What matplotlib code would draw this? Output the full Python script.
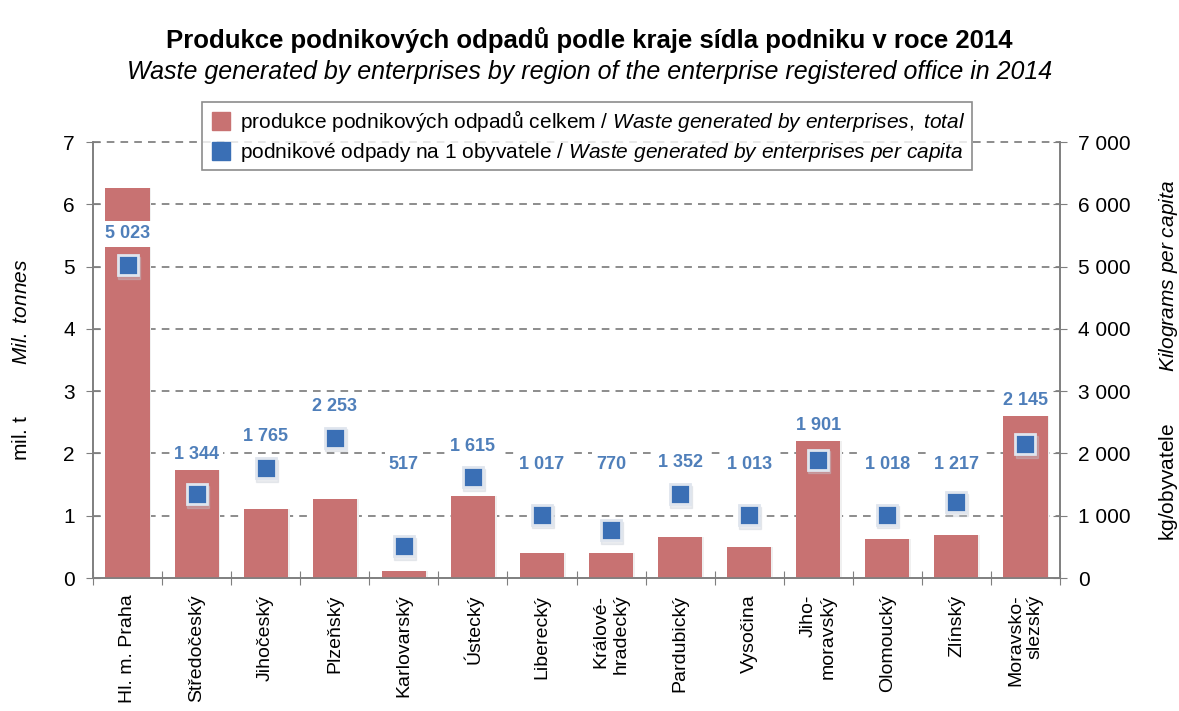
import numpy as np
import matplotlib.pyplot as plt
from matplotlib.lines import Line2D

plt.rcParams['font.family'] = ['Liberation Sans', 'DejaVu Sans']
plt.rcParams['mathtext.fontset'] = 'custom'
plt.rcParams['mathtext.it'] = 'Liberation Sans:italic'
plt.rcParams['mathtext.rm'] = 'Liberation Sans'

regions = ['Hl. m. Praha', 'Středočeský', 'Jihočeský', 'Plzeňský', 'Karlovarský',
           'Ústecký', 'Liberecký', 'Králové-\nhradecký', 'Pardubický', 'Vysočina',
           'Jiho-\nmoravský', 'Olomoucký', 'Zlínský', 'Moravsko-\nslezský']
waste_total = [6.26, 1.73, 1.11, 1.27, 0.11, 1.32, 0.40, 0.40, 0.66, 0.50, 2.20, 0.63, 0.69, 2.60]
waste_per_capita = [5023, 1344, 1765, 2253, 517, 1615, 1017, 770, 1352, 1013, 1901, 1018, 1217, 2145]

bar_col = '#c87272'
mk_col = '#3a6fb5'
lab_col = '#4f7fba'
grey = '#7f7f7f'

fig = plt.figure(figsize=(11.79, 7.11), dpi=100)
ax = fig.add_axes([93/1179, 1-578/711, (1060-93)/1179, (578-142)/711])
ax2 = ax.twinx()

x = np.arange(len(regions))

# bars with a faint shadow
ax.bar(x + 0.025, waste_total, width=0.64, color='#f0f0f0', zorder=2)
ax.bar(x, waste_total, width=0.64, color=bar_col, zorder=3)

ax.set_xlim(-0.5, len(regions) - 0.5)
ax.set_ylim(0, 7)
ax2.set_ylim(0, 7000)
ax.set_yticks(range(8))
ax2.set_yticks(range(0, 7001, 1000))
ax2.set_yticklabels(['0'] + ['%d 000' % (v // 1000) for v in range(1000, 7001, 1000)])

for v in range(1, 8):
    ax.axhline(v, color='#6e6e6e', lw=1.1, ls=(0, (5, 4)), zorder=1, clip_on=False)

ax.set_xticks(np.arange(-0.5, len(regions), 1.0))
ax.set_xticklabels([])
ax.set_xticks(x, minor=True)
ax.set_xticklabels(regions, minor=True, rotation=90, fontsize=14, va='top', ha='center',
                   multialignment='right')
ax.tick_params(axis='x', which='minor', length=0, pad=12)
ax.tick_params(axis='x', which='major', direction='inout', length=10, color=grey)
ax.tick_params(axis='y', direction='inout', length=10, color=grey, labelsize=15, pad=8)
ax2.tick_params(axis='y', direction='inout', length=10, color=grey, labelsize=15, pad=8)

for a in (ax, ax2):
    a.spines['top'].set_visible(False)
    for s in ('left', 'right', 'bottom'):
        a.spines[s].set_color(grey)
        a.spines[s].set_linewidth(1.2)

ax.set_zorder(1)
ax.patch.set_visible(False)
ax2.set_zorder(2)

# per-capita markers with a soft shadow
ax2.plot(x + 0.015, np.array(waste_per_capita) - 45, 's', ms=16, color='#c4cad3', alpha=0.35, zorder=3)
ax2.plot(x, waste_per_capita, 's', ms=14, color=mk_col, mec='#dfe5ee', mew=2, zorder=4)

for i, (b, pc) in enumerate(zip(waste_total, waste_per_capita)):
    y = pc / 1000 + 0.5
    if pc / 1000 < b < pc / 1000 + 1.0:
        y = max(y, b + 0.25)
    y = max(y, 1.83)
    ax2.text(i, y * 1000, '{:,}'.format(pc).replace(',', ' '), ha='center', va='center',
             fontsize=13, fontweight='bold', color=lab_col, zorder=5,
             bbox=dict(facecolor='white', edgecolor='none', pad=3))

fig.text(22/1179, 1 - 360/711, r'mil. t         $\it{Mil.\ tonnes}$', rotation=90,
         ha='center', va='center', fontsize=15)
fig.text(1168/1179, 1 - 361/711, r'kg/obyvatele         $\it{Kilograms\ per\ capita}$',
         rotation=90, ha='center', va='center', fontsize=15)

fig.text(0.5, 1 - 40/711, 'Produkce podnikových odpadů podle kraje sídla podniku v roce 2014',
         ha='center', va='center', fontsize=18.5, fontweight='bold')
fig.text(0.5, 1 - 72/711,
         'Waste generated by enterprises by region of the enterprise registered office in 2014',
         ha='center', va='center', fontsize=18, style='italic')

handles = [Line2D([], [], marker='s', ls='none', ms=13, color=bar_col),
           Line2D([], [], marker='s', ls='none', ms=13, color=mk_col)]
labels = [r'produkce podnikových odpadů celkem / $\it{Waste\ generated\ by\ enterprises,\ total}$',
          r'podnikové odpady na 1 obyvatele / $\it{Waste\ generated\ by\ enterprises\ per\ capita}$']
leg = fig.legend(handles, labels, loc='center', bbox_to_anchor=(587/1179, 1 - 136/711),
                 fontsize=15, frameon=True, fancybox=False, edgecolor='#707070',
                 handletextpad=0.3, borderpad=0.3, labelspacing=0.35, handlelength=1.2)
leg.get_frame().set_linewidth(1.2)
leg.set_zorder(10)

fig.savefig('out.png', dpi=100, facecolor='white')
